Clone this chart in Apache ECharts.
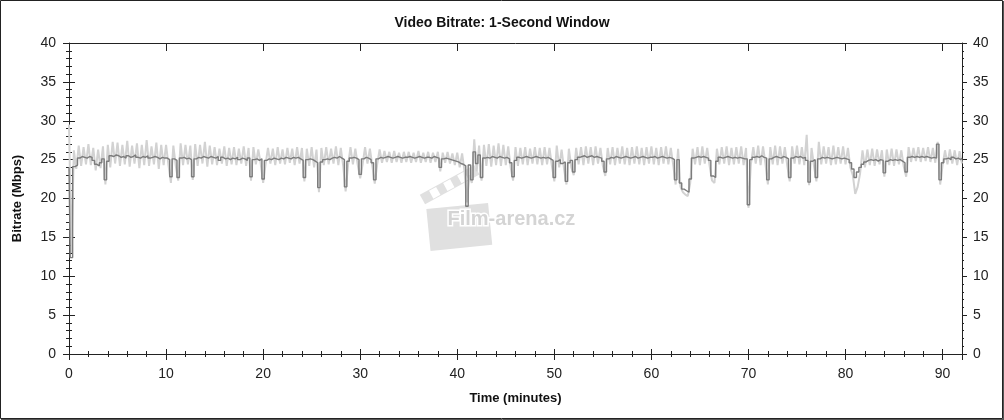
<!DOCTYPE html>
<html>
<head>
<meta charset="utf-8">
<script src="https://cdn.jsdelivr.net/npm/echarts@6/dist/echarts.min.js"></script>
<style>
html,body{margin:0;padding:0;background:#fff;}
#chart{width:1004px;height:420px;}
</style>
</head>
<body>
<div id="chart"></div>
<script>
// Time step between samples, minutes
const minutesStep = 0.25;
const xMin = 0, xMax = 92, yMin = 0, yMax = 40;

// Dark (averaged) bitrate, Mbps, one value every 0.25 min
const darkRate = [
  24.0,12.4,24.1,24.3,25.2,25.4,25.3,25.2,25.4,25.3,24.9,24.4,24.2,24.6,25.1,22.4,24.8,25.5,25.4,25.6,
  25.5,25.3,25.4,25.2,25.5,25.3,25.4,25.6,25.3,25.2,25.4,25.3,25.5,25.2,25.3,25.4,25.3,25.1,25.3,25.2,
  25.2,25.0,22.8,25.1,24.9,22.7,25.2,25.3,25.1,25.2,25.0,22.8,25.1,25.3,25.2,25.4,25.3,25.2,25.4,25.3,
  25.2,25.4,24.9,25.3,25.1,25.2,25.0,25.2,25.1,25.3,25.0,25.2,25.1,24.9,25.2,22.8,25.0,25.1,24.9,25.1,
  22.5,24.9,25.1,25.0,25.2,25.1,25.0,25.2,25.1,25.3,25.2,25.1,25.3,25.2,25.3,25.1,24.9,22.7,25.0,25.1,
  25.0,24.8,24.6,21.4,24.7,25.0,25.1,25.0,25.2,25.3,25.2,25.4,25.2,25.0,21.5,24.8,25.2,25.3,25.2,25.0,
  23.1,25.1,25.3,25.2,25.0,24.6,22.4,25.1,25.3,25.2,25.3,25.4,25.3,25.2,25.3,25.4,25.3,25.2,25.3,25.3,
  25.4,25.3,25.2,25.3,25.4,25.3,25.2,25.3,25.3,25.2,25.4,25.3,25.2,24.0,25.1,25.2,25.1,25.0,24.9,24.8,
  24.7,24.5,24.4,24.2,19.0,24.3,22.4,26.0,24.5,25.6,22.7,25.2,25.3,25.2,25.4,25.3,25.2,25.4,25.3,25.2,
  25.3,25.1,24.6,22.8,24.9,25.3,25.2,25.3,25.4,25.3,25.2,25.3,25.4,25.3,25.2,25.3,25.2,25.3,25.1,24.9,
  22.7,24.8,25.0,24.5,24.7,22.2,24.6,24.9,23.4,25.0,25.3,25.4,25.5,25.3,25.4,25.5,25.3,25.4,25.3,25.2,
  24.8,23.4,25.1,25.3,25.2,25.4,25.3,25.2,25.3,25.4,25.3,25.2,25.3,25.4,25.2,25.3,25.4,25.3,25.2,25.3,
  25.3,25.4,25.2,25.3,25.4,25.3,25.2,25.3,25.2,25.0,22.4,25.0,22.0,21.2,21.0,20.8,22.5,25.2,25.3,25.4,
  25.3,25.4,25.3,25.2,24.9,22.9,22.7,24.8,25.3,25.2,25.3,25.4,25.3,25.2,25.3,25.2,25.3,25.2,25.1,25.1,
  19.2,25.0,25.3,25.4,25.3,25.5,25.3,25.2,22.4,25.1,25.3,25.4,25.3,25.2,25.4,25.3,25.1,22.7,25.2,25.4,
  25.3,25.4,25.2,25.3,24.9,22.1,24.8,25.0,22.7,25.1,25.3,25.2,25.3,25.2,25.1,25.2,25.3,25.2,25.1,25.2,
  25.1,25.0,24.6,23.8,22.7,23.4,24.0,24.4,24.7,24.9,25.0,24.9,25.0,24.8,25.0,24.9,23.3,24.8,25.0,24.9,
  25.0,24.9,25.0,24.8,24.6,23.4,25.3,25.4,25.3,25.4,25.3,25.4,25.3,25.4,25.3,25.2,25.3,25.2,27.0,22.4,
  24.6,25.1,25.2,25.0,25.3,25.1,25.2,25.0,25.2
];

// Light (raw) bitrate, Mbps, one value every 0.25 min
const lightRate = [
  29.5,13.0,26.2,23.8,26.8,24.2,26.6,24.4,27.0,24.3,26.5,23.6,26.3,23.9,26.7,21.8,26.9,24.0,27.3,24.5,
  27.2,24.2,26.9,24.4,27.4,24.1,26.8,24.5,27.1,23.9,26.9,24.3,27.5,24.2,26.7,24.4,27.2,23.8,26.9,24.3,
  26.9,24.3,22.0,26.8,24.2,22.3,27.1,24.3,26.9,24.4,26.8,22.4,27.0,24.2,26.9,24.5,27.3,24.1,26.8,24.4,
  26.6,24.3,26.4,24.5,26.7,24.2,26.5,24.4,26.6,24.3,26.4,24.5,26.7,24.2,26.5,22.3,26.6,24.4,26.3,24.5,
  22.0,24.4,26.5,24.5,26.4,24.3,26.6,24.5,26.3,24.4,26.5,24.6,26.4,24.3,26.6,24.5,26.5,22.2,26.4,24.2,
  26.6,24.0,26.3,20.8,26.5,24.3,26.6,24.4,26.4,24.5,26.7,24.3,26.5,24.2,20.9,24.3,26.6,24.4,26.4,24.3,
  22.6,24.4,26.6,24.5,26.4,24.2,21.9,24.4,26.3,24.6,26.1,24.7,26.0,24.6,26.1,24.7,25.9,24.6,26.0,24.7,
  26.0,24.6,25.9,24.7,26.1,24.6,25.9,24.7,26.0,24.6,25.9,24.7,26.0,23.5,25.9,24.6,26.0,24.5,25.8,24.3,
  25.9,24.0,25.8,23.5,19.5,23.0,22.0,27.6,23.5,26.8,22.3,26.9,24.2,27.0,24.1,26.8,24.3,27.1,24.2,26.9,
  24.3,26.7,24.0,22.3,26.6,24.2,26.5,24.4,26.6,24.3,26.4,24.5,26.6,24.4,26.5,24.3,26.6,24.4,26.5,24.2,
  22.2,26.8,24.0,26.3,23.8,21.8,26.4,24.0,23.0,26.5,24.4,26.6,24.3,26.7,24.5,26.6,24.3,26.7,24.5,26.5,
  24.2,22.9,26.5,24.4,26.6,24.3,26.5,24.5,26.7,24.4,26.5,24.3,26.6,24.5,26.7,24.4,26.5,24.3,26.6,24.5,
  26.7,24.4,26.5,24.3,26.6,24.5,26.7,24.4,26.5,24.3,21.8,26.4,21.5,20.8,20.5,20.3,22.0,26.4,24.4,26.6,
  24.3,26.7,24.5,26.5,24.2,22.3,22.0,26.4,24.4,26.6,24.5,26.7,24.3,26.5,24.4,26.6,24.5,26.7,24.3,26.5,
  18.8,24.4,26.6,24.5,26.8,24.3,26.7,24.5,21.8,26.6,24.4,26.8,24.3,26.7,24.5,26.6,24.2,22.2,26.7,24.5,
  26.8,24.4,26.6,24.3,28.2,21.7,26.5,24.2,22.2,27.3,24.4,26.7,24.5,26.6,24.3,26.8,24.4,26.6,24.5,26.7,
  24.4,26.5,24.0,23.0,20.6,21.5,23.2,26.2,24.0,26.3,24.3,26.4,24.2,26.3,24.4,26.2,22.8,26.3,24.3,26.4,
  24.2,26.3,24.4,26.2,24.1,22.8,26.6,24.7,26.5,24.8,26.6,24.7,26.5,24.8,26.6,24.7,26.5,24.6,27.3,21.8,
  24.3,26.2,24.4,26.3,24.5,26.2,24.3,26.1,24.5
];

const titleText = 'Video Bitrate: 1-Second Window';
const xName = 'Time (minutes)';
const yName = 'Bitrate (Mbps)';
const watermarkText = 'Film-arena.cz';

const toPairs = arr => arr.map((v, i) => [i * minutesStep, v]);

const FONT = "'Liberation Sans', Arial, sans-serif";
const AX = '#222';
const grid = { left: 69, right: 42, top: 43, bottom: 66 };

function xAx(extra) {
  return Object.assign({
    type: 'value', min: xMin, max: xMax, interval: 10,
    axisLine: { show: true, onZero: false, lineStyle: { color: AX, width: 1 } },
    axisTick: { show: false },
    axisLabel: { show: false },
    splitLine: { show: false },
    minorTick: { show: false },
    minorSplitLine: { show: false }
  }, extra);
}
function yAx(extra) {
  return Object.assign({
    type: 'value', min: yMin, max: yMax, interval: 5,
    axisLine: { show: true, onZero: false, lineStyle: { color: AX, width: 1 } },
    axisTick: { show: false },
    axisLabel: { show: false },
    splitLine: { show: false },
    minorTick: { show: false },
    minorSplitLine: { show: false }
  }, extra);
}

const chart = echarts.init(document.getElementById('chart'), null, { renderer: 'canvas' });
chart.setOption({
  animation: false,
  backgroundColor: '#fff',
  title: {
    text: titleText, left: 'center', top: 11,
    textStyle: { fontFamily: FONT, fontSize: 14, fontWeight: 'bold', color: '#111' }
  },
  grid: grid,
  xAxis: [
    xAx({ position: 'bottom',
      axisTick: { show: true, inside: false, length: 6, lineStyle: { color: AX } },
      minorTick: { show: true, splitNumber: 5, length: 3, lineStyle: { color: AX } },
      axisLabel: { show: true, margin: 13, fontFamily: FONT, fontSize: 14, color: '#222', showMaxLabel: false },
      name: xName, nameLocation: 'middle', nameGap: 38,
      nameTextStyle: { fontFamily: FONT, fontSize: 13, fontWeight: 'bold', color: '#111' }
    }),
    xAx({ position: 'bottom', axisLine: { show: false },
      axisTick: { show: true, inside: true, length: 5, lineStyle: { color: AX } } }),
    xAx({ position: 'top',
      axisTick: { show: true, inside: true, length: 8, lineStyle: { color: AX } } }),
    xAx({ position: 'top', axisLine: { show: false },
      axisTick: { show: true, inside: false, length: 3, lineStyle: { color: AX } },
      minorTick: { show: true, splitNumber: 5, length: 3, lineStyle: { color: AX } } })
  ],
  yAxis: [
    yAx({ position: 'left',
      axisTick: { show: true, inside: false, length: 6, lineStyle: { color: AX } },
      minorTick: { show: true, splitNumber: 5, length: 3, lineStyle: { color: AX } },
      axisLabel: { show: true, margin: 13, fontFamily: FONT, fontSize: 14, color: '#222' },
      name: yName, nameLocation: 'middle', nameGap: 45, nameRotate: 90,
      nameTextStyle: { fontFamily: FONT, fontSize: 13, fontWeight: 'bold', color: '#111' }
    }),
    yAx({ position: 'left', axisLine: { show: false },
      axisTick: { show: true, inside: true, length: 6, lineStyle: { color: AX } },
      minorTick: { show: true, splitNumber: 5, length: 3, lineStyle: { color: AX } } }),
    yAx({ position: 'right',
      axisTick: { show: true, inside: false, length: 5, lineStyle: { color: AX } },
      minorTick: { show: true, splitNumber: 5, length: 2, lineStyle: { color: AX } },
      axisLabel: { show: true, margin: 11, fontFamily: FONT, fontSize: 14, color: '#222' } }),
    yAx({ position: 'right', axisLine: { show: false },
      axisTick: { show: true, inside: true, length: 5, lineStyle: { color: AX } },
      minorTick: { show: true, splitNumber: 5, length: 3, lineStyle: { color: AX } } })
  ],
  graphic: [
    { type: 'rect', silent: true, z: 100,
      shape: { x: 0.5, y: 0.5, width: 1002, height: 418 },
      style: { fill: 'none', stroke: '#222', lineWidth: 1 } },
    { type: 'line', silent: true, z: 100,
      shape: { x1: 1003.5, y1: 1, x2: 1003.5, y2: 420 }, style: { stroke: '#555', lineWidth: 1 } },
    { type: 'line', silent: true, z: 100,
      shape: { x1: 1, y1: 419.5, x2: 1004, y2: 419.5 }, style: { stroke: '#555', lineWidth: 1 } },
    // watermark: clapperboard
    { type: 'group', silent: true, z: 1, x: 458, y: 224, rotation: 0.1,
      children: [
        { type: 'rect', shape: { x: -30, y: -18, width: 62, height: 42 }, style: { fill: '#e0e0e0' } },
        { type: 'group', rotation: 0.4, x: -30, y: -21, children: [
          { type: 'rect', shape: { x: 0, y: -13, width: 62, height: 11 }, style: { fill: '#e0e0e0' } },
          { type: 'rect', shape: { x: 10, y: -12, width: 8, height: 9 }, style: { fill: '#fff' } },
          { type: 'rect', shape: { x: 26, y: -12, width: 8, height: 9 }, style: { fill: '#fff' } },
          { type: 'rect', shape: { x: 42, y: -12, width: 8, height: 9 }, style: { fill: '#fff' } }
        ]}
      ]},
    { type: 'text', silent: true, z: 2, left: 446, top: 208,
      style: { text: watermarkText, fontFamily: FONT, fontSize: 20, fontWeight: 'bold',
        fill: '#d4d4d4', stroke: '#fff', lineWidth: 3 } }
  ],
  series: [
    { type: 'line', name: 'raw', xAxisIndex: 0, yAxisIndex: 0, data: toPairs(lightRate),
      showSymbol: false, symbol: 'none', sampling: null, z: 3,
      lineStyle: { color: '#d2d2d2', width: 2 } },
    { type: 'line', name: 'avg', xAxisIndex: 0, yAxisIndex: 0, data: toPairs(darkRate),
      showSymbol: false, symbol: 'none', sampling: null, z: 4, step: 'middle',
      lineStyle: { color: '#7c7c7c', width: 1.4 } }
  ]
});
</script>
</body>
</html>
